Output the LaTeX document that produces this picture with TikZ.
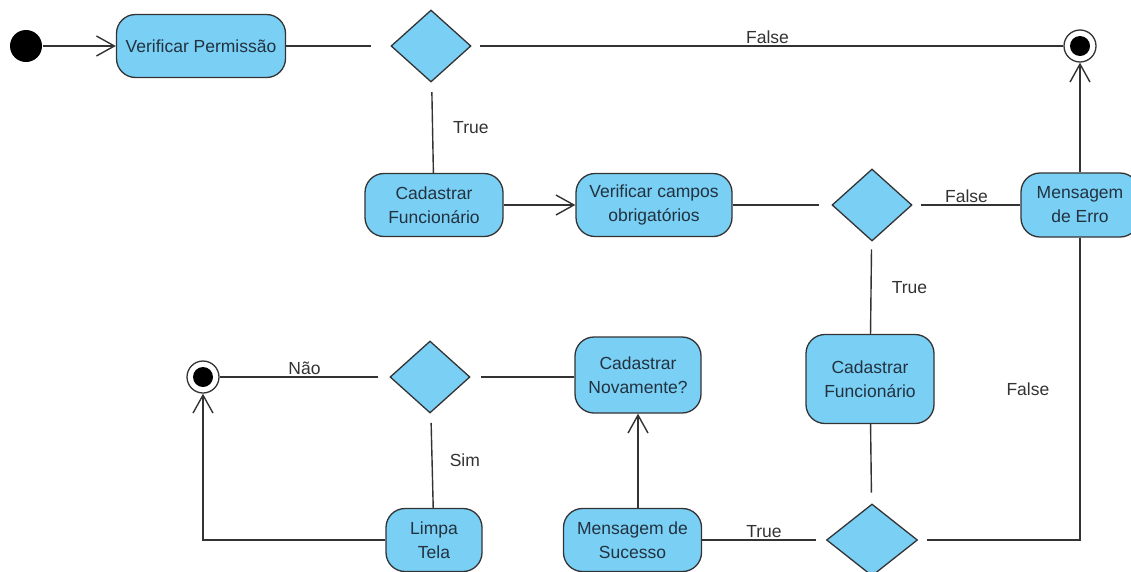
\documentclass[tikz,border=0pt]{standalone}
\usepackage{fontspec}
\setmainfont{Liberation Sans}
\usetikzlibrary{arrows.meta, positioning, shapes.geometric}
\definecolor{actfill}{HTML}{7ACFF5}
\definecolor{actline}{HTML}{333333}
\definecolor{acttext}{HTML}{22323F}

\begin{document}
\begin{tikzpicture}[x=1pt, y=-1pt, >={Straight Barb[length=18pt, width=20pt]}, line width=1.4pt,
  font=\fontsize{17.5}{24}\selectfont]
  \tikzset{
    acao/.style={draw=actline, fill=actfill, rounded corners=19pt, line width=1.3pt,
      align=center, text=acttext, inner sep=0pt},
    decisao/.style={diamond, draw=actline, fill=actfill, line width=1.3pt, inner sep=0pt,
      minimum width=80pt, minimum height=72pt},
    inicio/.style={circle, fill=black, minimum size=32pt, inner sep=0pt},
    fim/.style={circle, draw=actline, fill=white, minimum size=32pt, inner sep=0pt, line width=1.3pt,
      path picture={\fill[black] (path picture bounding box.center) circle (10pt);}},
    fluxo/.style={draw=actline},
    rotulo/.style={text=actline, inner sep=2pt},
  }
  \useasboundingbox (0,0) rectangle (1131,571);
  \clip (0,0) rectangle (1131,571);

  % Linha de cima
  \node[inicio] (ini) at (26,46) {};
  \node[acao, minimum width=169pt, minimum height=63pt] (vp) at (201,46) {Verificar Permissão};
  \node[decisao] (d1) at (431,46) {};
  \node[fim] (fim1) at (1080,46) {};

  % Linha do meio
  \node[acao, minimum width=138pt, minimum height=63pt] (cf1) at (434,205) {Cadastrar\\Funcionário};
  \node[acao, minimum width=156pt, minimum height=63pt] (vc) at (654,205) {Verificar campos\\obrigatórios};
  \node[decisao] (d2) at (872,205) {};
  \node[acao, minimum width=118pt, minimum height=64pt] (me) at (1080,205) {Mensagem\\de Erro};

  % Parte de baixo
  \node[acao, minimum width=128pt, minimum height=89pt] (cf2) at (870,379) {Cadastrar\\Funcionário};
  \node[decisao, minimum width=91pt] (d3) at (872,540) {};
  \node[acao, minimum width=138pt, minimum height=63pt] (ms) at (632.5,540) {Mensagem de\\Sucesso};
  \node[acao, minimum width=126pt, minimum height=76pt] (cn) at (638,375) {Cadastrar\\Novamente?};
  \node[decisao] (d4) at (430,377) {};
  \node[fim] (fim2) at (203,377) {};
  \node[acao, minimum width=96pt, minimum height=63pt] (lt) at (434,540) {Limpa\\Tela};

  % Fluxos
  \draw[fluxo, ->] (ini) -- (vp);
  \draw[fluxo, shorten >=19pt] (vp) -- (d1);
  \draw[fluxo, shorten <=8pt] (d1) -- node[rotulo, above] {False} (fim1);
  \draw[fluxo, shorten <=10pt] (d1) -- node[rotulo, right=18pt] {True} (cf1);
  \draw[fluxo, ->] (cf1) -- (vc);
  \draw[fluxo, shorten >=12pt] (vc) -- (d2);
  \draw[fluxo, shorten <=8pt] (d2) -- node[rotulo, above] {False} (me);
  \draw[fluxo, ->] (me) -- (fim1);
  \draw[fluxo, shorten <=8pt] (d2) -- node[rotulo, right=18pt] {True} (cf2);
  \draw[fluxo, shorten >=11pt] (cf2) -- (d3);
  \draw[fluxo, shorten >=9pt] (me) |- node[rotulo, pos=0.25, left=28pt] {False} (d3);
  \draw[fluxo, shorten <=10pt] (d3) -- node[rotulo, above] {True} (ms);
  \draw[fluxo, ->] (ms.north -| cn.south) -- (cn);
  \draw[fluxo, shorten >=10pt] (cn.west |- d4) -- (d4);
  \draw[fluxo, shorten <=11pt] (d4) -- node[rotulo, above] {Não} (fim2);
  \draw[fluxo, shorten <=10pt] (d4) -- node[rotulo, right=15pt] {Sim} (lt);
  \draw[fluxo, ->] (lt) -| (fim2);

\end{tikzpicture}
\end{document}
